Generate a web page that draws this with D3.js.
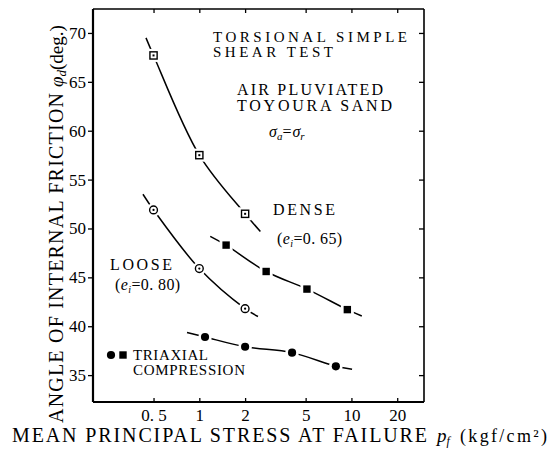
<!DOCTYPE html>
<html>
<head>
<meta charset="utf-8">
<script src="https://cdn.jsdelivr.net/npm/d3@7"></script>
<style>
  body { margin: 0; background: #fff; }
  svg { display: block; font-family: "Liberation Serif", "Times New Roman", "DejaVu Serif", serif; }
  .axis path { display: none; }
  .axis line { stroke: #000; stroke-width: 1.3; }
  .axis text { font-family: "Liberation Serif", "Times New Roman", serif; font-size: 17px; fill: #000; }
</style>
</head>
<body>
<div id="chart"></div>
<script>
// tick values
const xTicks = [0.5, 1, 2, 5, 10, 20];
const yTicks = [35, 40, 45, 50, 55, 60, 65, 70];

// torsional simple shear (open markers)
const denseTorsionP = [0.5, 1, 2];
const denseTorsionPhi = [67.7, 57.5, 51.5];
const looseTorsionP = [0.5, 1, 2];
const looseTorsionPhi = [51.9, 45.9, 41.8];

// triaxial compression (filled markers)
const denseTriaxP = [1.5, 2.75, 5.1, 9.4];
const denseTriaxPhi = [48.3, 45.6, 43.8, 41.7];
const looseTriaxP = [1.09, 2.0, 4.07, 7.9];
const looseTriaxPhi = [38.9, 37.9, 37.3, 35.9];

// where the hand-drawn fit curves start and stop [p, phi]
const denseTorsionEnds = [[0.446, 69.5], [2.52, 49.7]];
const looseTorsionEnds = [[0.426, 53.5], [2.43, 41.0]];
const denseTriaxEnds = [[1.18, 49.2], [11.7, 41.05]];
const looseTriaxEnds = [[0.83, 39.35], [10.1, 35.6]];

const w = 560, h = 451;
const padLeft = 93, padRight = 424, padTop = 9, padBottom = 402;

const svg = d3.select('#chart')
              .append('svg')
              .attr('width', w)
              .attr('height', h);

const xScale = d3.scaleLog()
                 .domain([0.2, 30])
                 .range([padLeft, padRight]);

const yScale = d3.scaleLinear()
                 .domain([32.25, 72.45])
                 .range([padBottom, padTop]);

// axes
svg.append('g')
   .attr('class', 'axis')
   .attr('transform', `translate(${padLeft}, 0)`)
   .call(d3.axisLeft(yScale).tickValues(yTicks).tickSize(5).tickPadding(2).tickFormat(d3.format('d')));

svg.append('g')
   .attr('class', 'axis')
   .attr('transform', `translate(${padRight}, 0)`)
   .call(d3.axisRight(yScale).tickValues(yTicks).tickSize(-5).tickFormat(''));

svg.append('g')
   .attr('class', 'axis')
   .attr('transform', `translate(0, ${padBottom})`)
   .call(d3.axisBottom(xScale).tickValues(xTicks).tickSize(-4).tickPadding(7).tickFormat(d => d === 0.5 ? '0. 5' : d3.format('d')(d)));

svg.append('g')
   .attr('class', 'axis')
   .attr('transform', `translate(0, ${padTop})`)
   .call(d3.axisTop(xScale).tickValues(xTicks).tickSize(-4).tickFormat(''));

// frame
svg.append('line').attr('x1', padLeft).attr('x2', padLeft).attr('y1', padTop).attr('y2', padBottom)
   .attr('stroke', '#000').attr('stroke-width', 2.2);
svg.append('line').attr('x1', padLeft).attr('x2', padRight).attr('y1', padBottom).attr('y2', padBottom)
   .attr('stroke', '#000').attr('stroke-width', 2);
svg.append('line').attr('x1', padLeft).attr('x2', padRight).attr('y1', padTop).attr('y2', padTop)
   .attr('stroke', '#000').attr('stroke-width', 1.6);
svg.append('line').attr('x1', padRight).attr('x2', padRight).attr('y1', padTop).attr('y2', padBottom)
   .attr('stroke', '#000').attr('stroke-width', 1.6);

// curves
const line = d3.line()
               .x(d => xScale(d[0]))
               .y(d => yScale(d[1]))
               .curve(d3.curveCatmullRom.alpha(0.5));

const series = [
  { p: denseTorsionP, phi: denseTorsionPhi, ends: denseTorsionEnds, marker: 'openSquare' },
  { p: looseTorsionP, phi: looseTorsionPhi, ends: looseTorsionEnds, marker: 'openCircle' },
  { p: denseTriaxP, phi: denseTriaxPhi, ends: denseTriaxEnds, marker: 'square' },
  { p: looseTriaxP, phi: looseTriaxPhi, ends: looseTriaxEnds, marker: 'circle' }
];

series.forEach(s => {
  const pts = s.p.map((p, i) => [p, s.phi[i]]);
  const all = [s.ends[0], ...pts, s.ends[1]];
  svg.append('path')
     .attr('d', line(all))
     .attr('fill', 'none')
     .attr('stroke', '#000')
     .attr('stroke-width', 1.5);
});

function drawMarker(g, type, cx, cy) {
  // white halo breaks the curve around each point
  if (type === 'openSquare' || type === 'square') {
    g.append('rect').attr('x', cx - 6.5).attr('y', cy - 6.5).attr('width', 13).attr('height', 13).attr('fill', '#fff');
  } else {
    g.append('circle').attr('cx', cx).attr('cy', cy).attr('r', 6.8).attr('fill', '#fff');
  }
  if (type === 'openSquare') {
    g.append('rect').attr('x', cx - 3.6).attr('y', cy - 3.6).attr('width', 7.2).attr('height', 7.2)
     .attr('fill', '#fff').attr('stroke', '#000').attr('stroke-width', 1.4);
    g.append('rect').attr('x', cx - 1).attr('y', cy - 1).attr('width', 2).attr('height', 2).attr('fill', '#000');
  } else if (type === 'openCircle') {
    g.append('circle').attr('cx', cx).attr('cy', cy).attr('r', 3.9)
     .attr('fill', '#fff').attr('stroke', '#000').attr('stroke-width', 1.4);
    g.append('circle').attr('cx', cx).attr('cy', cy).attr('r', 1.1).attr('fill', '#000');
  } else if (type === 'square') {
    g.append('rect').attr('x', cx - 3.7).attr('y', cy - 3.7).attr('width', 7.4).attr('height', 7.4).attr('fill', '#000');
  } else {
    g.append('circle').attr('cx', cx).attr('cy', cy).attr('r', 4.1).attr('fill', '#000');
  }
}

const markers = svg.append('g');
series.forEach(s => {
  s.p.forEach((p, i) => drawMarker(markers, s.marker, xScale(p), yScale(s.phi[i])));
});

// legend for triaxial
const legend = svg.append('g');
drawMarker(legend, 'circle', 111, 355);
drawMarker(legend, 'square', 123, 355);

// annotations
function label(x, y, str, len, size) {
  const t = svg.append('text')
     .attr('x', x)
     .attr('y', y)
     .attr('font-size', size || 16)
     .text(str);
  if (len) t.attr('textLength', len).attr('lengthAdjust', 'spacing');
  return t;
}

label(213, 42, 'TORSIONAL SIMPLE', 194, 15);
label(213, 57, 'SHEAR TEST', 120, 15);
label(237, 95, 'AIR PLUVIATED', 146);
label(237, 111, 'TOYOURA SAND', 155);
label(273, 215, 'DENSE', 62);
label(110, 270, 'LOOSE', 62);
label(133, 360, 'TRIAXIAL', 75, 15);
label(133, 375, 'COMPRESSION', 112, 15);

const sig = svg.append('text').attr('x', 269).attr('y', 137).attr('font-size', 16);
sig.append('tspan').attr('font-style', 'italic').text('σ');
sig.append('tspan').attr('font-style', 'italic').attr('font-size', 11).attr('dy', 3).text('a');
sig.append('tspan').attr('dy', -3).text('=');
sig.append('tspan').attr('font-style', 'italic').attr('dx', 1).text('σ');
sig.append('tspan').attr('font-style', 'italic').attr('font-size', 11).attr('dy', 3).text('r');

function voidRatio(x, y, val) {
  const t = svg.append('text').attr('x', x).attr('y', y).attr('font-size', 16).attr('letter-spacing', 0.4);
  t.append('tspan').text('(');
  t.append('tspan').attr('font-style', 'italic').text('e');
  t.append('tspan').attr('font-style', 'italic').attr('font-size', 10).attr('dy', 3).text('i');
  t.append('tspan').attr('dy', -3).text('=' + val + ')');
}
voidRatio(277, 244, '0. 65');
voidRatio(115, 290, '0. 80');

// x axis title
svg.append('text')
   .attr('x', 12).attr('y', 442)
   .attr('font-size', 20)
   .attr('textLength', 415).attr('lengthAdjust', 'spacing')
   .text('MEAN PRINCIPAL STRESS AT FAILURE');
const xt = svg.append('text').attr('x', 437).attr('y', 442).attr('font-size', 19);
xt.append('tspan').attr('font-style', 'italic').text('p');
xt.append('tspan').attr('font-style', 'italic').attr('font-size', 12).attr('dy', 3).text('f');
svg.append('text')
   .attr('x', 460).attr('y', 442)
   .attr('font-size', 18)
   .attr('textLength', 87).attr('lengthAdjust', 'spacing')
   .text('(kgf/cm²)');

// y axis title
svg.append('text')
   .attr('transform', 'translate(63, 423) rotate(-90)')
   .attr('font-size', 20)
   .attr('textLength', 330).attr('lengthAdjust', 'spacing')
   .text('ANGLE OF INTERNAL FRICTION');
const yt = svg.append('text')
   .attr('transform', 'translate(63, 87) rotate(-90)')
   .attr('font-size', 19);
yt.append('tspan').attr('font-style', 'italic').text('φ');
yt.append('tspan').attr('font-style', 'italic').attr('font-size', 13).attr('dy', 3).text('d');
yt.append('tspan').attr('dy', -3).text('(deg.)');
</script>
</body>
</html>
